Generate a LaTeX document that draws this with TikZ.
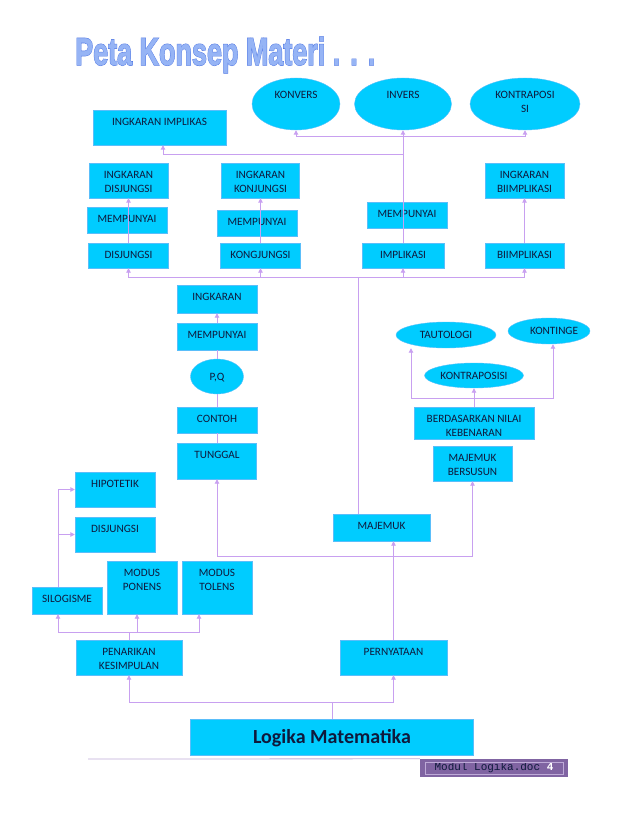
\documentclass[tikz,border=0pt]{standalone}
\usepackage{fontspec}
\setmainfont{Carlito}
\newfontfamily\modulfont{Liberation Mono}
\newfontfamily\judulfont[FakeBold=1.2]{Liberation Sans}
\newfontfamily\judultepi[FakeBold=3.5]{Liberation Sans}
\usetikzlibrary{arrows.meta, shapes.geometric}
\definecolor{biru}{RGB}{0,204,255}
\definecolor{tepi}{RGB}{90,190,250}
\definecolor{ungu}{RGB}{200,160,240}
\definecolor{teks}{RGB}{15,25,60}
\definecolor{modul}{RGB}{128,100,162}
\definecolor{modultepi}{RGB}{190,170,215}
\definecolor{judul}{RGB}{150,180,245}
\definecolor{judulgaris}{RGB}{70,110,225}
\newcommand{\isi}{\fontsize{11.2}{14}\selectfont}
\newcommand{\judulteks}{Peta Konsep Materi . . .}
\tikzset{
    kotak/.style 2 args={draw=tepi, fill=biru, text=teks, font=\isi, align=center,
        inner xsep=1pt, inner ysep=0pt, minimum width=#1pt, minimum height=#2pt,
        text height=15.3pt, text depth={#2pt-15.3pt}},
    kotakdua/.style 2 args={kotak={#1}{#2}, text height=29.3pt,
        text depth={#2pt-29.3pt}},
    oval/.style 2 args={ellipse, draw=tepi, fill=biru, text=teks, font=\isi,
        align=center, inner sep=0pt, minimum width=#1pt, minimum height=#2pt,
        text height=7.2pt, text depth=0pt},
    atas/.style={text height=10pt, text depth=20.8pt},
    atasdua/.style={text height=24pt, text depth=6.8pt},
    garis/.style={draw=ungu, line width=0.9pt},
    panah/.style={garis, -{Triangle[length=4.5pt, width=4.5pt]}},
}

\begin{document}
\begin{tikzpicture}[x=1pt, y=-1pt]
    \useasboundingbox (0,0) rectangle (638,826);

    % Judul
    \node[anchor=base west, inner sep=0pt] (JD) at (75,65)
        {\resizebox{300pt}{28pt}{\bfseries
            \rlap{\color{judulgaris}\judultepi\judulteks}%
            {\color{judul}\judulfont\judulteks}}};

    % Baris atas
    \node[oval={88}{52}, atas] (KV) at (296,104) {KONVERS};
    \node[oval={97}{52}, atas] (INV) at (403,104) {INVERS};
    \node[oval={110}{52}, atasdua] (KP) at (525,104) {KONTRAPOSI\\SI};
    \node[kotak={133}{35}] (IIMP) at (159.5,127.5) {INGKARAN IMPLIKAS};

    % Ingkaran
    \node[kotakdua={79}{35}] (ID) at (128.5,180.5) {INGKARAN\\DISJUNGSI};
    \node[kotakdua={78}{35}] (IK) at (260.5,180.5) {INGKARAN\\KONJUNGSI};
    \node[kotakdua={79}{35}] (IB) at (524.5,180.5) {INGKARAN\\BIIMPLIKASI};

    \node[kotak={80}{26}] (M1) at (127,220) {MEMPUNYAI};
    \node[kotak={80}{26}] (M2) at (257,223) {MEMPUNYAI};
    \node[kotak={80}{26}] (M3) at (407,215) {MEMPUNYAI};

    % Jenis pernyataan majemuk
    \node[kotak={80}{25}] (DIS) at (128.5,255.5) {DISJUNGSI};
    \node[kotak={80}{25}] (KON) at (260.5,255.5) {KONGJUNGSI};
    \node[kotak={82}{25}] (IMP) at (403,255.5) {IMPLIKASI};
    \node[kotak={79}{25}] (BI) at (524.5,255.5) {BIIMPLIKASI};

    % Kolom tengah
    \node[kotak={80}{28}] (ING) at (217,299) {INGKARAN};
    \node[kotak={80}{27}] (M4) at (217,336.5) {MEMPUNYAI};
    \node[oval={53}{35}] (PQ) at (217,376.5) {P,Q};
    \node[kotak={80}{26}] (CON) at (217,420) {CONTOH};
    \node[kotak={79}{36}] (TUN) at (217,461) {TUNGGAL};

    % Sisi kanan
    \node[oval={100}{26}] (TAU) at (446,335) {TAUTOLOGI};
    \node[oval={82}{26}, text width=58pt, align=right] (KTG) at (549,331) {KONTINGE};
    \node[oval={99}{25}] (KTP) at (474,375.5) {KONTRAPOSISI};
    \node[kotakdua={120}{32}] (BNK) at (474,423) {BERDASARKAN NILAI\\KEBENARAN};
    \node[kotakdua={79}{35}] (MB) at (472.5,463.5) {MAJEMUK\\BERSUSUN};
    \node[kotak={97}{27}] (MAJ) at (381.5,527.5) {MAJEMUK};

    % Penarikan kesimpulan
    \node[kotak={80}{35}] (HIP) at (115,489.5) {HIPOTETIK};
    \node[kotak={80}{35}] (DIS2) at (115,534.5) {DISJUNGSI};
    \node[kotak={70}{27}] (SIL) at (67,600.5) {SILOGISME};
    \node[kotakdua={70}{53}] (MP) at (142,587.5) {MODUS\\PONENS};
    \node[kotakdua={70}{53}] (MT) at (217,587.5) {MODUS\\TOLENS};
    \node[kotakdua={106}{35}] (PK) at (129,657.5) {PENARIKAN\\KESIMPULAN};
    \node[kotak={107}{35}] (PER) at (393.5,657.5) {PERNYATAAN};

    \node[kotak={283}{36}, font=\fontsize{20}{24}\selectfont\bfseries,
        text height=12.9pt, text depth=0pt] (LM) at (332,737) {Logika Matematika};

    % Garis penghubung
    \coordinate (c1) at (332,702);
    \draw[garis] (LM.north) -- (c1);
    \draw[panah] (c1) -| (PK.south);
    \draw[panah] (c1) -| (PER.south);

    \coordinate (c2) at (129,632);
    \draw[garis] (PK.north) -- (c2);
    \draw[panah] (c2) -| ([xshift=-9pt]SIL.south);
    \draw[panah] (c2) -| ([xshift=-5pt]MP.south);
    \draw[panah] (c2) -| ([xshift=-18pt]MT.south);
    \draw[panah] ([xshift=-9pt]SIL.north) |- (HIP.west);
    \draw[panah] ([xshift=-9pt]SIL.north) |- (DIS2.west);

    \coordinate (c3) at (393.5,556);
    \draw[panah] (PER.north) -- (PER.north |- MAJ.south);
    \draw[panah] (c3) -| (TUN.south);
    \draw[panah] (c3) -| (MB.south);

    \foreach \a/\b in {TUN/CON, CON/PQ, PQ/M4} {
        \draw[garis] (\a.north) -- (\b.south);
    }
    \draw[panah] (M4.north) -- (ING.south);

    \coordinate (c4) at (358,277);
    \draw[garis] (MAJ.north -| c4) -- (c4);
    \foreach \n in {DIS, KON, IMP, BI} {
        \draw[panah] (c4) -| (\n.south);
    }
    \foreach \a/\b in {DIS/ID, KON/IK, BI/IB} {
        \draw[panah] (\a.north) -- (\b.south);
    }

    \coordinate (c5) at (403,136);
    \coordinate (c6) at (403,154);
    \draw[garis] (IMP.north) -- (c5);
    \foreach \n in {KV, INV, KP} {
        \draw[panah] (c5) -| (\n.south);
    }
    \draw[panah] (c6) -| ([xshift=3.5pt]IIMP.south);

    \coordinate (c7) at (474,398);
    \draw[panah] (BNK.north) -- (KTP.south);
    \draw[panah] (c7) -| ([xshift=-35pt]TAU.south);
    \draw[panah] (c7) -| ([xshift=4pt]KTG.south);

    % Kaki halaman
    \node[fill=modul, minimum width=148pt, minimum height=18pt, inner sep=0pt,
        font=\modulfont\fontsize{11}{13}\selectfont, text=teks] (MD) at (494,768)
        {Modul Logika.doc \textcolor{white}{\bfseries 4}};
    \draw[modultepi, line width=0.6pt] ([xshift=5pt, yshift=-3pt]MD.north west)
        rectangle ([xshift=-5pt, yshift=3pt]MD.south east);
    \coordinate (kiri) at (88,759);
    \draw[modultepi, line width=0.8pt] (kiri) -- (MD.north west);
\end{tikzpicture}
\end{document}
